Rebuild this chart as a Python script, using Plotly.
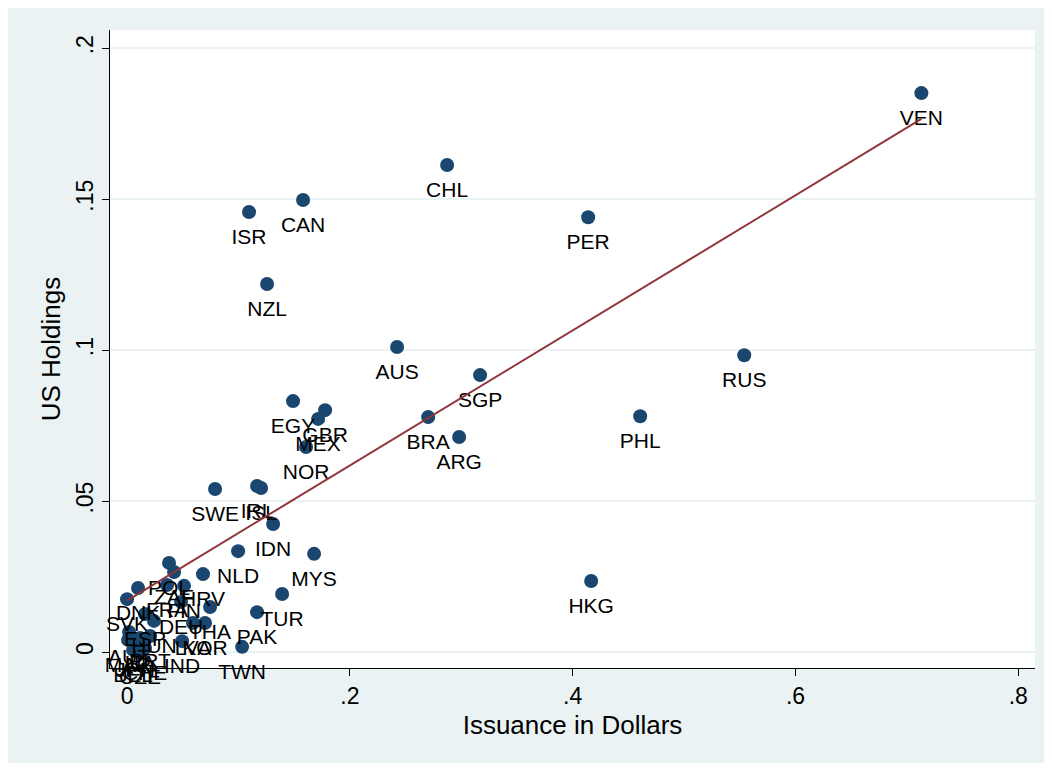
import numpy as np
import plotly.graph_objects as go

countries = ["VEN", "CHL", "CAN", "ISR", "PER", "NZL", "AUS", "RUS", "SGP", "EGY",
             "GBR", "MEX", "NOR", "BRA", "ARG", "PHL", "HKG", "SWE", "IRL", "ISL",
             "IDN", "MYS", "NLD", "TUR", "PAK", "TWN", "POL", "ZAF", "HRV", "FRA",
             "FIN", "DNK", "SVK", "THA", "DEU", "ESP", "HUN", "KOR", "LVA", "IND",
             "CZE", "MAR", "JPN", "ITA", "BEL", "CHE", "AUT", "PRT"]
issuance = [0.713, 0.2873, 0.1580, 0.1095, 0.4139, 0.1257, 0.2424, 0.5540, 0.3169, 0.1490,
            0.1778, 0.1715, 0.1607, 0.2703, 0.2981, 0.4606, 0.4166, 0.0790, 0.1167, 0.1203,
            0.1311, 0.1679, 0.0997, 0.1392, 0.1167, 0.1033, 0.0377, 0.0422, 0.0682, 0.0359,
            0.0512, 0.0099, 0.0000, 0.0745, 0.0485, 0.0162, 0.0242, 0.0700, 0.0592, 0.0494,
            0.0117, 0.0009, 0.0072, 0.0117, 0.0054, 0.0162, 0.0018, 0.0207]
us_holdings = [0.1851, 0.1613, 0.1497, 0.1457, 0.1440, 0.1219, 0.1010, 0.0983, 0.0917, 0.0831,
               0.0801, 0.0772, 0.0679, 0.0778, 0.0712, 0.0781, 0.0235, 0.0540, 0.0550, 0.0543,
               0.0424, 0.0325, 0.0334, 0.0192, 0.0132, 0.0017, 0.0295, 0.0265, 0.0258, 0.0222,
               0.0219, 0.0212, 0.0175, 0.0149, 0.0166, 0.0126, 0.0103, 0.0096, 0.0096, 0.0036,
               0.0000, 0.0040, 0.0023, 0.0046, 0.0007, 0.0013, 0.0066, 0.0053]

x_ticks = [0, 0.2, 0.4, 0.6, 0.8]
x_tick_labels = ["0", ".2", ".4", ".6", ".8"]
y_ticks = [0, 0.05, 0.1, 0.15, 0.2]
y_tick_labels = ["0", ".05", ".1", ".15", ".2"]

xa = np.array(issuance)
ya = np.array(us_holdings)
slope, intercept = np.polyfit(xa, ya, 1)
fit_x = np.array([xa.min(), xa.max()])
fit_y = intercept + slope * fit_x

FONT = "Liberation Sans, Arial, sans-serif"
BG = "#EAF2F3"

fig = go.Figure()
fig.add_trace(go.Scatter(
    x=issuance, y=us_holdings, mode="markers",
    marker=dict(size=14, color="#1A476F", line=dict(width=0)),
    showlegend=False, cliponaxis=False,
))
fig.add_trace(go.Scatter(
    x=issuance, y=us_holdings, mode="markers+text", text=countries,
    textposition="bottom center",
    textfont=dict(family=FONT, size=21, color="#000000"),
    marker=dict(size=24, color="rgba(0,0,0,0)", line=dict(width=0)),
    showlegend=False, cliponaxis=False,
))
fig.add_trace(go.Scatter(
    x=fit_x, y=fit_y, mode="lines",
    line=dict(color="#90353B", width=2),
    showlegend=False,
))

fig.update_layout(
    width=1036, height=755,
    margin=dict(l=102, r=9, t=22, b=95),
    paper_bgcolor=BG, plot_bgcolor="#FFFFFF",
    font=dict(family=FONT, size=23, color="#000000"),
    xaxis=dict(
        range=[-0.0153, 0.815], tickvals=x_ticks, ticktext=x_tick_labels,
        ticks="outside", ticklen=7, tickwidth=1, tickcolor="#000000",
        showline=True, linecolor="#000000", linewidth=1,
        showgrid=False, zeroline=False,
        tickfont=dict(size=23),
        title=dict(text="Issuance in Dollars", font=dict(size=26), standoff=8),
    ),
    yaxis=dict(
        range=[-0.0053, 0.206], tickvals=y_ticks, ticktext=y_tick_labels,
        tickangle=-90,
        ticks="outside", ticklen=7, tickwidth=1, tickcolor="#000000",
        showline=True, linecolor="#000000", linewidth=1,
        showgrid=True, gridcolor=BG, gridwidth=1.5, zeroline=False,
        tickfont=dict(size=23),
        title=dict(text="US Holdings", font=dict(size=26), standoff=3),
    ),
)

fig.write_html("out.html")
